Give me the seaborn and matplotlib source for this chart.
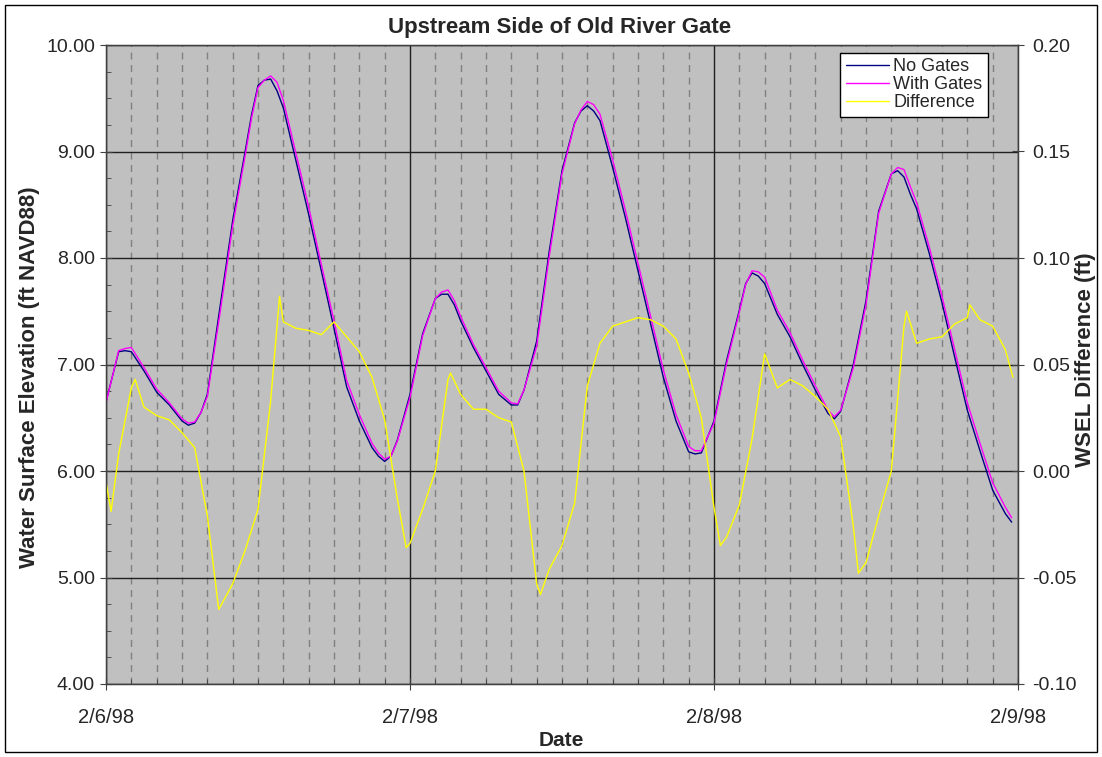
import matplotlib
matplotlib.use("Agg")
import matplotlib.pyplot as plt
import seaborn as sns
import pandas as pd
from matplotlib.patches import Rectangle
from matplotlib.ticker import MultipleLocator, FormatStrFormatter

# hours after 2/6/98 00:00
stage_hours = [0, 1, 1.5, 2, 3, 4, 5, 6, 6.5, 7, 7.5, 8, 9, 10, 11, 11.5, 12,
               12.5, 13, 13.5, 14, 15, 16, 17, 18, 19, 20, 21, 21.5, 22, 22.5,
               23, 24, 25, 26, 26.5, 27, 27.5, 28, 29, 30, 31, 32, 32.5, 33,
               34, 35, 36, 37, 37.5, 38, 38.5, 39, 40, 41, 42, 43, 44, 45, 46,
               46.5, 47, 48, 49, 50, 50.5, 51, 51.5, 52, 53, 54, 55, 56, 57,
               57.5, 58, 59, 60, 61, 62, 62.5, 63, 63.5, 64, 65, 66, 67, 68,
               69, 70, 71, 71.5]
no_gates = [6.65, 7.12, 7.13, 7.12, 6.94, 6.74, 6.62, 6.47, 6.43, 6.45, 6.55,
            6.72, 7.54, 8.35, 9.01, 9.35, 9.62, 9.67, 9.68, 9.57, 9.41, 8.91,
            8.41, 7.88, 7.34, 6.79, 6.47, 6.22, 6.14, 6.09, 6.14, 6.29, 6.72,
            7.29, 7.62, 7.66, 7.66, 7.56, 7.41, 7.16, 6.94, 6.72, 6.62, 6.62,
            6.76, 7.22, 8.07, 8.82, 9.27, 9.38, 9.43, 9.38, 9.29, 8.85, 8.38,
            7.88, 7.38, 6.88, 6.47, 6.18, 6.16, 6.17, 6.47, 7.04, 7.51, 7.76,
            7.86, 7.83, 7.76, 7.47, 7.26, 7.00, 6.76, 6.54, 6.49, 6.56, 7.00,
            7.60, 8.44, 8.79, 8.82, 8.76, 8.60, 8.46, 8.04, 7.58, 7.07, 6.57,
            6.19, 5.82, 5.60, 5.52]
with_gates = [6.64, 7.13, 7.15, 7.16, 6.97, 6.77, 6.64, 6.49, 6.45, 6.46, 6.55,
              6.70, 7.48, 8.30, 8.97, 9.32, 9.60, 9.67, 9.71, 9.65, 9.48, 8.98,
              8.48, 7.94, 7.41, 6.85, 6.53, 6.26, 6.17, 6.11, 6.14, 6.28, 6.69,
              7.27, 7.62, 7.68, 7.70, 7.60, 7.45, 7.19, 6.97, 6.75, 6.64, 6.63,
              6.76, 7.17, 8.02, 8.79, 9.26, 9.39, 9.47, 9.44, 9.35, 8.92, 8.45,
              7.95, 7.45, 6.95, 6.53, 6.23, 6.19, 6.19, 6.45, 7.01, 7.49, 7.75,
              7.88, 7.87, 7.82, 7.51, 7.30, 7.04, 6.80, 6.57, 6.51, 6.57, 6.97,
              7.56, 8.42, 8.79, 8.85, 8.83, 8.67, 8.52, 8.10, 7.64, 7.14, 6.64,
              6.26, 5.89, 5.66, 5.56]

diff_hours = [0, 0.4, 1, 2, 2.3, 3, 4, 5, 6, 7, 8, 8.9, 10, 11, 12, 13, 13.7,
              14, 15, 16, 17, 18, 19, 20, 21, 22, 23, 23.7, 24,
              25, 26, 27, 27.2, 28, 29, 30, 31, 32, 33, 34, 34.3, 35, 36, 37,
              38, 39, 40, 41, 42, 43, 44, 45, 46, 47, 48,
              48.5, 49, 50, 51, 52, 53, 54, 55, 56, 57, 58, 59, 59.4, 60, 61,
              62, 63, 63.2, 64, 65, 66, 67, 68, 68.2, 69, 70, 71, 71.6]
difference = [-0.005, -0.019, 0.008, 0.039, 0.043, 0.030, 0.026, 0.024, 0.018,
              0.011, -0.021, -0.065, -0.053, -0.037, -0.018, 0.033, 0.082,
              0.070, 0.067, 0.066, 0.064, 0.070, 0.063, 0.056, 0.044, 0.024,
              -0.013, -0.036, -0.034,
              -0.018, 0.000, 0.043, 0.046, 0.036, 0.029, 0.029, 0.025, 0.023,
              0.000, -0.053, -0.058, -0.046, -0.035, -0.015, 0.040, 0.060,
              0.068, 0.070, 0.072, 0.071, 0.068, 0.062, 0.046, 0.025, -0.017,
              -0.035, -0.031, -0.016, 0.015, 0.055, 0.039, 0.043, 0.040, 0.035,
              0.029, 0.016, -0.026, -0.048, -0.043, -0.021, 0.000, 0.068, 0.075,
              0.060, 0.062, 0.063, 0.069, 0.072, 0.078, 0.071, 0.068, 0.057,
              0.044]

date_ticks = [0, 24, 48, 72]
date_labels = ['2/6/98', '2/7/98', '2/8/98', '2/9/98']

stage = pd.DataFrame({'Hour': stage_hours * 2,
                      'WSEL': no_gates + with_gates,
                      'Run': ['No Gates'] * len(no_gates) + ['With Gates'] * len(with_gates)})
diff_df = pd.DataFrame({'Hour': diff_hours, 'Diff': difference})

sns.set_style('ticks')
plt.rcParams['font.family'] = ['Liberation Sans', 'DejaVu Sans']

W, H = 1102, 757
fig = plt.figure(figsize=(W / 100, H / 100), dpi=100)
ax = fig.add_axes([106 / W, 1 - 684 / H, 912 / W, 639 / H])
ax.set_facecolor('#C0C0C0')

sns.lineplot(data=stage, x='Hour', y='WSEL', hue='Run',
             palette={'No Gates': '#000080', 'With Gates': '#FF00FF'},
             linewidth=1.0, ax=ax, legend=False, zorder=3)

ax.set_xlim(0, 72)
ax.set_ylim(4, 10)
ax.set_xticks(date_ticks)
ax.set_xticklabels(date_labels, fontsize=14.5)
ax.xaxis.set_minor_locator(MultipleLocator(2))
ax.yaxis.set_major_locator(MultipleLocator(1))
ax.yaxis.set_minor_locator(MultipleLocator(0.25))
ax.yaxis.set_major_formatter(FormatStrFormatter('%.2f'))
ax.tick_params(axis='y', which='major', labelsize=14, length=8, direction='inout', color='#404040', pad=4)
ax.tick_params(axis='y', which='minor', length=3.5, direction='in', color='#404040')
ax.tick_params(axis='x', which='major', length=8, direction='inout', color='#404040', pad=13)
ax.tick_params(axis='x', which='minor', length=3.5, direction='in', color='#404040')
ax.set_axisbelow(True)
ax.grid(which='major', axis='both', color='#202020', linewidth=1.0)
ax.grid(which='minor', axis='x', color='#808080', linestyle=(0, (5, 4)), linewidth=1.0)
for s in ax.spines.values():
    s.set_color('#404040')
    s.set_linewidth(1.0)
ax.set_xlabel('')
ax.set_ylabel('')

ax2 = ax.twinx()
sns.lineplot(data=diff_df, x='Hour', y='Diff', color='#FFFF00', linewidth=1.0, ax=ax2)
ax2.set_ylim(-0.10, 0.20)
ax2.set_xlim(0, 72)
ax2.yaxis.set_major_locator(MultipleLocator(0.05))
ax2.yaxis.set_major_formatter(FormatStrFormatter('%.2f'))
ax2.tick_params(axis='y', labelsize=14, length=8, direction='inout', color='#404040', pad=6)
ax2.set_ylabel('')
for s in ax2.spines.values():
    s.set_color('#404040')

handles = [plt.Line2D([], [], color='#000080', lw=1),
           plt.Line2D([], [], color='#FF00FF', lw=1),
           plt.Line2D([], [], color='#FFFF00', lw=1)]
leg = ax2.legend(handles, ['No Gates', 'With Gates', 'Difference'],
                 loc='upper right', bbox_to_anchor=(0.967, 0.9875), fontsize=13,
                 frameon=True, fancybox=False, borderpad=0.3, labelspacing=0.05,
                 handlelength=2.4, handletextpad=0.25, borderaxespad=0)
leg.get_frame().set_edgecolor('black')
leg.get_frame().set_linewidth(1.0)
leg.get_frame().set_facecolor('white')
leg.get_frame().set_alpha(1)

fig.text(560 / W, 1 - 27 / H, 'Upstream Side of Old River Gate',
         ha='center', va='center', fontsize=16, fontweight='bold')
fig.text(561 / W, 1 - 740 / H, 'Date', ha='center', va='center',
         fontsize=15, fontweight='bold')
fig.text(30 / W, 1 - 377 / H, 'Water Surface Elevation (ft NAVD88)',
         ha='center', va='center', rotation=90, fontsize=16, fontweight='bold')
fig.text(1086 / W, 1 - 360 / H, 'WSEL Difference (ft)',
         ha='center', va='center', rotation=90, fontsize=16, fontweight='bold')

fig.patches.append(Rectangle((5 / W, 5 / H), 1092 / W, 747 / H,
                             transform=fig.transFigure, fill=False,
                             edgecolor='black', linewidth=1.0))

fig.savefig('out.png', dpi=100, facecolor='white')
